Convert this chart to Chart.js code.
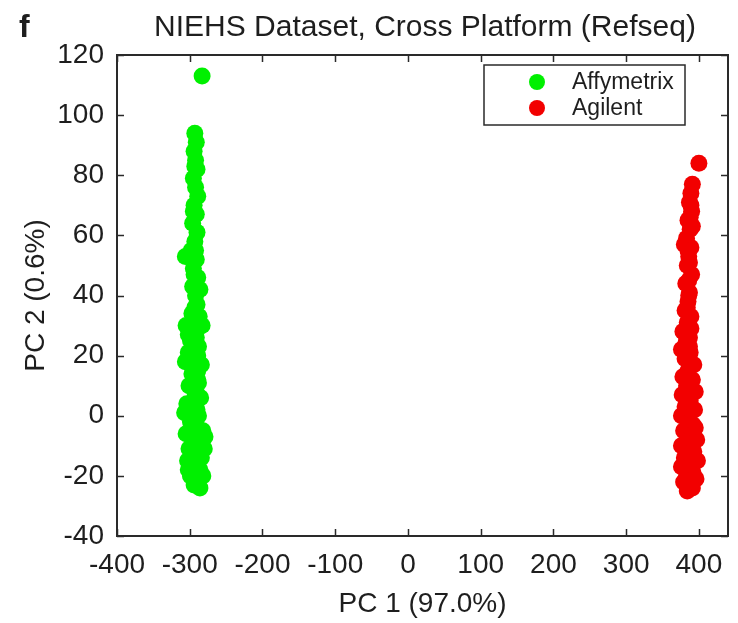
<!DOCTYPE html>
<html>
<head>
<meta charset="utf-8">
<script src="https://cdn.jsdelivr.net/npm/chart.js@4/dist/chart.umd.min.js"></script>
<style>
  html, body { margin: 0; padding: 0; background: #ffffff; }
  #wrap { width: 738px; height: 623px; }
</style>
</head>
<body>
<div id="wrap"><canvas id="c" width="738" height="623"></canvas></div>
<script>
// PCA scores, NIEHS cross-platform (RefSeq) comparison
const affyX = [-283,-293,-291,-294,-292,-290,-295,-292,-289,-294,-291,-296,-290,-293,-298,-306,-291,-295,-289,-296,-292,-290,-297,-287,-305,-283,-294,-299,-288,-302,-292,-306,-284,-297,-289,-301,-293,-285,-304,-296,-307,-288,-299,-292,-282,-305,-296,-287,-279,-301,-291,-284,-303,-295,-286,-299,-290,-282,-294,-286,-302,-280,-297,-289,-302,-286,
               -292,-291,-293,-290,-294,-291,-289,-293,-290,-295,-291,-288,-294,-292,-289,-295,-291,-289,-297,-293,-294,-292,-295,-293];
const affyY = [113,94,91,88,85,82,79,76,73,70,67,64,61,58,55,53,52,49,46,43,40,37,34,33,30,30,28,25,23,21,19,18,17,14,12,10,8,6,4,2,1,0,-2,-4,-5,-6,-8,-9,-7,-11,-12,-14,-15,-17,-18,-20,-21,-20,-23,-24,-18,-11,-4,15,27,42,
               -22,-19,-16,-13,-10,-7,-4,-1,2,5,8,11,14,17,20,23,26,29,31,36,47,55,68,83];

const agilX = [400,391,389,387,390,385,388,383,389,386,384,390,382,387,385,381,389,384,378,387,382,376,388,381,393,385,378,391,383,395,377,388,381,394,376,386,392,379,387,397,376,384,393,380,398,388,376,392,383,396,379,388,384,391,395,382,389,386,380,391,
               386,388,385,389,386,384,389,385,388,384,390,386,383,388,385,387,383,386,384,386,387,385,388,389];
const agilY = [84,77,74,71,68,65,62,59,56,53,50,47,44,41,38,35,33,31,28,26,24,22,21,19,17,15,13,12,10,8,7,5,3,2,0,-1,-3,-5,-6,-8,-10,-11,-12,-14,-15,-16,-17,-19,-20,-21,-22,-23,-25,-24,-4,8,29,45,57,63,
               -22,-19,-16,-13,-10,-7,-4,-1,2,5,8,11,14,17,20,23,26,32,36,40,51,55,66,70];

const seriesNames = ['Affymetrix', 'Agilent'];
const xTicks = [-400,-300,-200,-100,0,100,200,300,400];
const yTicks = [-40,-20,0,20,40,60,80,100,120];

const panelLetter = 'f';
const chartTitle = 'NIEHS Dataset, Cross Platform (Refseq)';
const xTitle = 'PC 1 (97.0%)';
const yTitle = 'PC 2 (0.6%)';

const FONT = '"Liberation Sans", Arial, Helvetica, sans-serif';
const INK = '#1e1e1e';

const toPoints = (xs, ys) => xs.map((v, i) => ({ x: v, y: ys[i] }));

// Box frame with inward ticks on all four sides
const boxFrame = {
  id: 'boxFrame',
  afterDatasetsDraw(chart) {
    const { ctx, chartArea: a, scales: { x, y } } = chart;
    const L = 7;
    ctx.save();
    ctx.strokeStyle = '#2a2a2a';
    ctx.lineWidth = 1.5;
    ctx.beginPath();
    xTicks.forEach(v => {
      const px = Math.round(x.getPixelForValue(v)) + 0.5;
      ctx.moveTo(px, a.bottom); ctx.lineTo(px, a.bottom - L);
      ctx.moveTo(px, a.top); ctx.lineTo(px, a.top + L);
    });
    yTicks.forEach(v => {
      const py = Math.round(y.getPixelForValue(v)) + 0.5;
      ctx.moveTo(a.left, py); ctx.lineTo(a.left + L, py);
      ctx.moveTo(a.right, py); ctx.lineTo(a.right - L, py);
    });
    ctx.stroke();
    ctx.lineWidth = 2;
    ctx.strokeRect(a.left, a.top, a.right - a.left, a.bottom - a.top);
    ctx.restore();
  }
};

// Legend box in the upper right and the heading texts
const decorations = {
  id: 'decorations',
  afterDraw(chart) {
    const { ctx } = chart;
    ctx.save();
    // legend
    const bx = 484, by = 65, bw = 201, bh = 60;
    ctx.fillStyle = '#ffffff';
    ctx.fillRect(bx, by, bw, bh);
    ctx.strokeStyle = '#2a2a2a';
    ctx.lineWidth = 1.5;
    ctx.strokeRect(bx, by, bw, bh);
    chart.data.datasets.forEach((ds, i) => {
      const cy = by + 17 + i * 26;
      ctx.beginPath();
      ctx.arc(537, cy, 8, 0, Math.PI * 2);
      ctx.fillStyle = ds.backgroundColor;
      ctx.fill();
      ctx.fillStyle = INK;
      ctx.font = '23px ' + FONT;
      ctx.textAlign = 'left';
      ctx.textBaseline = 'middle';
      ctx.fillText(ds.label, 572, cy + 1);
    });
    // title
    ctx.fillStyle = INK;
    ctx.font = '30px ' + FONT;
    ctx.textAlign = 'center';
    ctx.textBaseline = 'alphabetic';
    ctx.fillText(chartTitle, 425, 36);
    // panel letter
    ctx.font = 'bold 32px ' + FONT;
    ctx.textAlign = 'left';
    ctx.fillText(panelLetter, 19, 37);
    ctx.restore();
  }
};

new Chart(document.getElementById('c'), {
  type: 'scatter',
  data: {
    datasets: [
      {
        label: seriesNames[0],
        data: toPoints(affyX, affyY),
        backgroundColor: '#00f000',
        borderWidth: 0,
        pointRadius: 8.5,
        pointHoverRadius: 8.5
      },
      {
        label: seriesNames[1],
        data: toPoints(agilX, agilY),
        backgroundColor: '#f20000',
        borderWidth: 0,
        pointRadius: 8.5,
        pointHoverRadius: 8.5
      }
    ]
  },
  options: {
    responsive: false,
    animation: false,
    events: [],
    layout: { padding: { top: 55, right: 10, left: 0, bottom: 0 } },
    plugins: {
      legend: { display: false },
      tooltip: { enabled: false },
      title: { display: false }
    },
    scales: {
      x: {
        type: 'linear',
        min: -400,
        max: 440,
        afterBuildTicks: s => { s.ticks = xTicks.map(v => ({ value: v })); },
        afterFit: s => { s.height = 87; },
        grid: { display: false, drawTicks: false },
        border: { display: false },
        ticks: {
          padding: 12,
          color: INK,
          font: { family: FONT, size: 28 },
          maxRotation: 0,
          autoSkip: false
        },
        title: {
          display: true,
          text: xTitle,
          color: INK,
          font: { family: FONT, size: 28 },
          padding: { top: 0, bottom: 2 }
        }
      },
      y: {
        type: 'linear',
        min: -40,
        max: 120,
        afterBuildTicks: s => { s.ticks = yTicks.map(v => ({ value: v })); },
        afterFit: s => { s.width = 117; },
        grid: { display: false, drawTicks: false },
        border: { display: false },
        ticks: {
          padding: 13,
          color: INK,
          font: { family: FONT, size: 28 },
          autoSkip: false
        },
        title: {
          display: true,
          text: yTitle,
          color: INK,
          font: { family: FONT, size: 28 },
          padding: { top: 19, bottom: 0 }
        }
      }
    }
  },
  plugins: [boxFrame, decorations]
});
</script>
</body>
</html>
